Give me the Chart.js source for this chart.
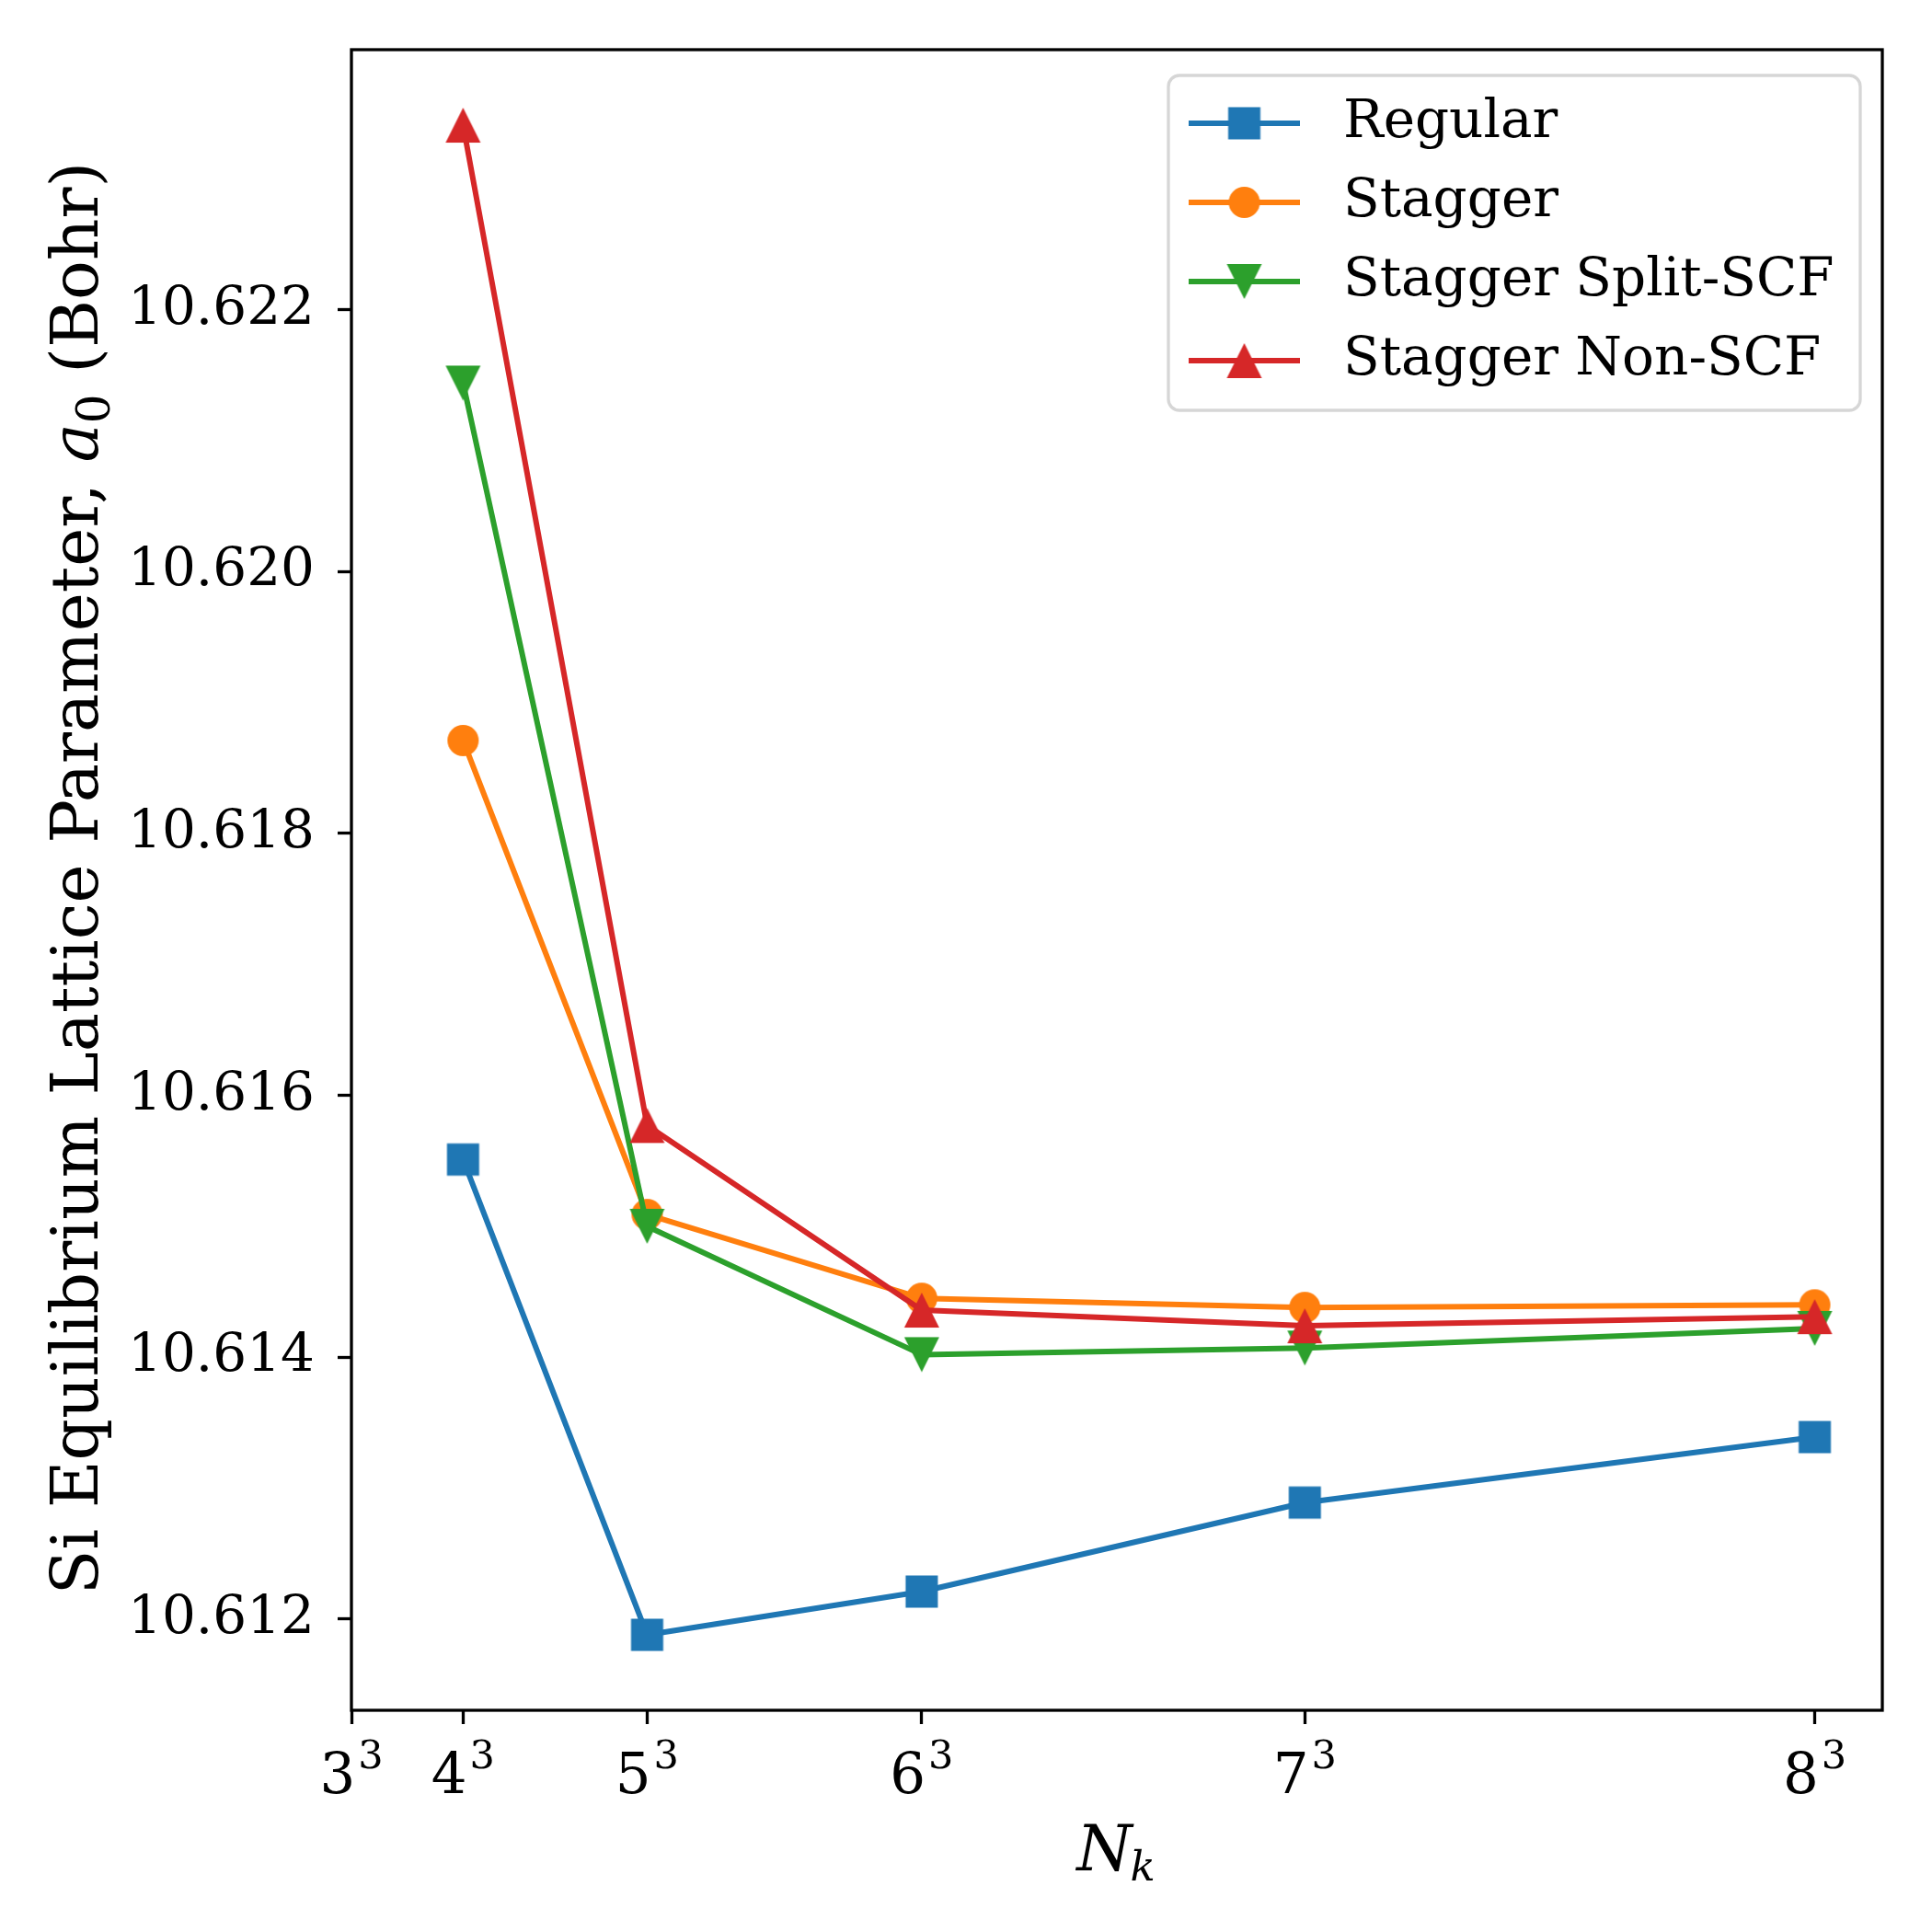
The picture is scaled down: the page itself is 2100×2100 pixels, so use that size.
<!DOCTYPE html>
<html>
<head>
<meta charset="utf-8">
<script src="https://cdn.jsdelivr.net/npm/chart.js@4.4.1/dist/chart.umd.min.js"></script>
<style>
  html, body { margin: 0; padding: 0; background: #fff; }
  canvas { display: block; }
</style>
</head>
<body>
<canvas id="lattice_chart" width="2100" height="2100"></canvas>
<script>
// k-point counts (N_k = n^3) and fitted lattice parameters (Bohr)
const nk_values       = [64, 125, 216, 343, 512];
const regular         = [10.61551, 10.61188, 10.61221, 10.61289, 10.61339];
const stagger         = [10.61871, 10.61509, 10.61445, 10.61438, 10.61440];
const stagger_split   = [10.62144, 10.61500, 10.61402, 10.61407, 10.61422];
const stagger_non_scf = [10.62341, 10.61577, 10.61436, 10.61424, 10.61431];

const series_names   = ['Regular', 'Stagger', 'Stagger Split-SCF', 'Stagger Non-SCF'];
const series_data    = [regular, stagger, stagger_split, stagger_non_scf];
const series_colors  = ['#1f77b4', '#ff7f0e', '#2ca02c', '#d62728'];
const series_markers = ['square', 'circle', 'triangle_down', 'triangle_up'];

const x_tick_bases = [3, 4, 5, 6, 7, 8];      // tick labels read n^3
const y_ticks = [10.612, 10.614, 10.616, 10.618, 10.620, 10.622];

const SERIF = "'DejaVu Serif'";

function makeMarker(shape, color) {
    // pre-rendered marker so the shape matches matplotlib's
    const dim = 44, m = dim / 2;
    const c = document.createElement('canvas');
    c.width = dim; c.height = dim;
    const ctx = c.getContext('2d');
    ctx.fillStyle = color;
    ctx.beginPath();
    if (shape == 'square') {
        ctx.rect(m - 17.5, m - 17.5, 35, 35);
    } else if (shape == 'circle') {
        ctx.arc(m, m, 17, 0, Math.PI * 2);
    } else if (shape == 'triangle_up') {
        ctx.moveTo(m, m - 19); ctx.lineTo(m + 19, m + 19); ctx.lineTo(m - 19, m + 19);
    } else {
        ctx.moveTo(m, m + 19); ctx.lineTo(m + 19, m - 19); ctx.lineTo(m - 19, m - 19);
    }
    ctx.closePath();
    ctx.fill();
    return c;
}

const marker_images = series_markers.map((s, i) => makeMarker(s, series_colors[i]));

// matplotlib style 5% margins
const all_values = series_data.flat();
const y_lo = Math.min(...all_values), y_hi = Math.max(...all_values);
const y_pad = (y_hi - y_lo) * 0.05;
const x_max = nk_values[nk_values.length - 1] + (nk_values[nk_values.length - 1] - nk_values[0]) * 0.05;

const extras_plugin = {
    id: 'extras',
    afterDraw(chart) {
        const ctx = chart.ctx;
        const area = chart.chartArea;
        const xs = chart.scales.x;

        // full frame
        ctx.save();
        ctx.strokeStyle = '#000';
        ctx.lineWidth = 3.3;
        ctx.strokeRect(area.left, area.top, area.right - area.left, area.bottom - area.top);

        // x tick labels n^3
        ctx.fillStyle = '#000';
        ctx.textBaseline = 'alphabetic';
        ctx.textAlign = 'left';
        x_tick_bases.forEach(b => {
            const px = xs.getPixelForValue(b ** 3);
            ctx.font = `61px ${SERIF}`;
            const wb = ctx.measureText(String(b)).width;
            ctx.font = `43px ${SERIF}`;
            const ws = ctx.measureText('3').width;
            const start = px - (wb + 3 + ws) / 2;
            ctx.font = `61px ${SERIF}`;
            ctx.fillText(String(b), start, 1949);
            ctx.font = `43px ${SERIF}`;
            ctx.fillText('3', start + wb + 3, 1922);
        });

        // x axis title N_k
        const cx = (area.left + area.right) / 2;
        ctx.font = `italic 69px ${SERIF}`;
        const wn = ctx.measureText('N').width;
        ctx.font = `italic 45px ${SERIF}`;
        const wk = ctx.measureText('k').width;
        const nx = cx - (wn + wk) / 2;
        ctx.font = `italic 69px ${SERIF}`;
        ctx.fillText('N', nx, 2033);
        ctx.font = `italic 45px ${SERIF}`;
        ctx.fillText('k', nx + wn - 2, 2044);

        // y axis title, rotated
        const parts = [
            ['Si Equilibrium Lattice Parameter, ', `71px ${SERIF}`, 0],
            ['a', `italic 71px ${SERIF}`, 0],
            ['0', `50px ${SERIF}`, 13],
            [' (Bohr)', `71px ${SERIF}`, 0]
        ];
        let total = 0;
        parts.forEach(p => { ctx.font = p[1]; total += ctx.measureText(p[0]).width; });
        ctx.translate(106, (area.top + area.bottom) / 2 - 2);
        ctx.rotate(-Math.PI / 2);
        let tx = -total / 2;
        parts.forEach(p => {
            ctx.font = p[1];
            ctx.fillText(p[0], tx, p[2]);
            tx += ctx.measureText(p[0]).width;
        });
        ctx.restore();

        // legend
        ctx.save();
        ctx.beginPath();
        ctx.roundRect(1270, 82, 752, 364, 12);
        ctx.fillStyle = 'rgba(255,255,255,0.8)';
        ctx.fill();
        ctx.strokeStyle = '#d6d6d6';
        ctx.lineWidth = 3.3;
        ctx.stroke();
        series_names.forEach((name, i) => {
            const ry = 134 + i * 86;
            ctx.beginPath();
            ctx.moveTo(1292, ry);
            ctx.lineTo(1413, ry);
            ctx.strokeStyle = series_colors[i];
            ctx.lineWidth = 6;
            ctx.stroke();
            const img = marker_images[i];
            ctx.drawImage(img, 1352.5 - img.width / 2, ry - img.height / 2);
            ctx.fillStyle = '#000';
            ctx.font = `58px ${SERIF}`;
            ctx.textBaseline = 'middle';
            ctx.fillText(name, 1460, ry);
        });
        ctx.restore();
    }
};

const chart = new Chart(document.getElementById('lattice_chart'), {
    type: 'line',
    data: {
        datasets: series_names.map((name, i) => ({
            label: name,
            data: nk_values.map((x, j) => ({x: x, y: series_data[i][j]})),
            borderColor: series_colors[i],
            backgroundColor: series_colors[i],
            borderWidth: 6,
            borderJoinStyle: 'round',
            pointStyle: marker_images[i],
            pointRadius: 18,
            tension: 0,
            fill: false,
            order: series_names.length - 1 - i     // later series drawn on top
        }))
    },
    options: {
        responsive: false,
        animation: false,
        devicePixelRatio: 1,
        layout: { padding: { top: 54, right: 54, left: 0, bottom: 0 } },
        plugins: {
            legend: { display: false },
            tooltip: { enabled: false }
        },
        scales: {
            x: {
                type: 'linear',
                min: 27,
                max: x_max,
                afterBuildTicks: s => { s.ticks = x_tick_bases.map(b => ({value: b ** 3})); },
                afterFit: s => { s.height = 241; s.paddingLeft = 0; s.paddingRight = 0; },
                ticks: { display: false },
                border: { display: false },
                grid: { drawOnChartArea: false, drawTicks: true, tickLength: 15, tickWidth: 3.3, tickColor: '#000' }
            },
            y: {
                type: 'linear',
                min: y_lo - y_pad,
                max: y_hi + y_pad,
                afterBuildTicks: s => { s.ticks = y_ticks.map(v => ({value: v})); },
                afterFit: s => { s.width = 382; s.paddingTop = 0; s.paddingBottom = 0; },
                ticks: {
                    callback: v => v.toFixed(3),
                    font: { family: 'DejaVu Serif', size: 58 },
                    color: '#000',
                    padding: 25
                },
                border: { display: false },
                grid: { drawOnChartArea: false, drawTicks: true, tickLength: 15, tickWidth: 3.3, tickColor: '#000' }
            }
        }
    },
    plugins: [extras_plugin]
});
</script>
</body>
</html>
